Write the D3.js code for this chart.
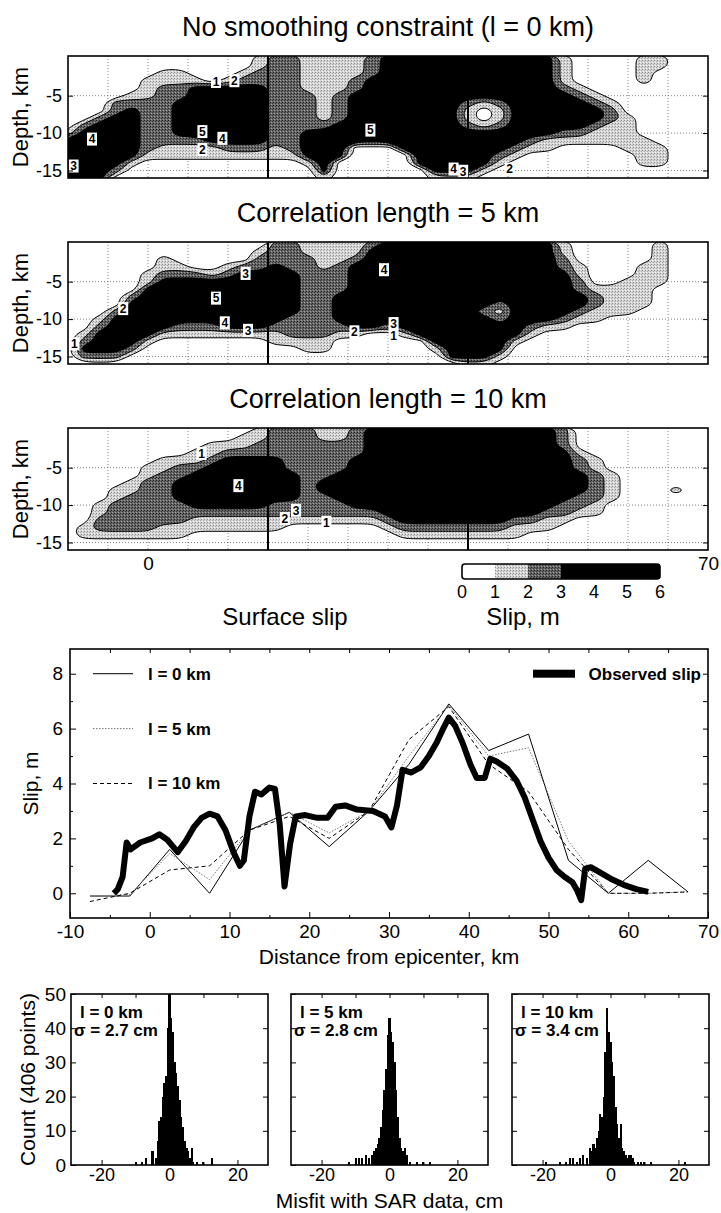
<!DOCTYPE html>
<html>
<head>
<meta charset="utf-8">
<script src="https://cdn.jsdelivr.net/npm/d3@7"></script>
<style>
  body { margin: 0; background: #fff; }
  svg { display: block; font-family: "Liberation Sans", Arial, Helvetica, sans-serif; }
</style>
</head>
<body>
<svg id="fig" width="721" height="1213"></svg>
<script>
// grid nodes of the slip maps: one string per along-strike column, read top to bottom
const alongStrike = d3.range(-10, 71, 2);   // km
const downDip = d3.range(0, -17, -1);        // km
const slipLevels = [1, 2, 3];                // m, contour levels that change the shading
// digit = slip class at the node (0: <1 m, 1: 1-2 m, 2: 2-3 m, 3: >3 m)
const slipL0 = [
  "00000000001333333", "00000000023333333", "00000000233333333", "00000022333333320", "00000123333333100",
  "00011122222221000", "00112222222211000", "00112233333211000", "00013333333211000", "00003333333311000",
  "00013333333321000", "00123333333321000", "11223333333321000", "22222222222211000", "22222222222221000",
  "11111222223333100", "11111111123333331", "11111222233333000", "11122333333300000", "22233333333300000",
  "33333333333300000", "33333333333330000", "33333333333333300", "33333333333333331", "33333333333333331",
  "33333321123333331", "33333310013333310", "33333321123332100", "33333333333321000", "33333333333210000",
  "33333333333110000", "11112333332100000", "00001233332100000", "00000123321100000", "00000012211100000",
  "00000000111110000", "11110000000111100", "11000000000011100", "00000000000000000", "00000000000000000",
  "00000000000000000"
];
const slipL5 = [
  "00000000000000000", "00000000000012320", "00000000001233320", "00000000023333320", "00000002333333200",
  "00001133333331000", "00112333333310000", "00012333333210000", "00002333333210000", "00001333333210000",
  "00012333333310000", "00023333333310000", "01223333333310000", "22233333333211000", "22223333332221000",
  "11222222222221100", "11112222222221100", "11122223333210000", "11233333333310000", "23333333333300000",
  "33333333333200000", "33333333333310000", "33333333333330000", "33333333333333100", "33333333333333330",
  "33333333333333331", "33333333323333331", "33333333212333310", "33333333333331000", "33333333333210000",
  "33333333333100000", "11223333332100000", "00011223321000000", "00000012211000000", "00000011110000000",
  "00000111110000000", "00011111100000000", "11111100000000000", "00000000000000000", "00000000000000000",
  "00000000000000000"
];
const slipL10 = [
  "00000000000000000", "00000000000001100", "00000000001122100", "00000000112222100", "00000001122222100",
  "00000112222222100", "00001122222221100", "00001223332221100", "00011233333211000", "00112333333211000",
  "00123333333211000", "01123333333211000", "11223333333211000", "22223333332211000", "22222233332210000",
  "22222222222210000", "11222223322210000", "11222233332210000", "22223333333210000", "33333333333210000",
  "33333333333321000", "33333333333332100", "33333333333332100", "33333333333332100", "33333333333332100",
  "33333333333332100", "33333333333332100", "33333333333332100", "33333333333321100", "33333333333321000",
  "33333333333211000", "22233333332210000", "00012233322100000", "00001122221100000", "00000011110000000",
  "00000000000000000", "00000000000000000", "00000000000000000", "00000000100000000", "00000000000000000",
  "00000000000000000"
];
// contour labels: [text, km along strike, depth km]
const labelsL0 = [["1", 8.5, -3.1], ["2", 10.8, -3.0], ["4", -7.0, -10.8], ["3", -9.3, -14.4], ["5", 6.8, -9.8],
  ["4", 9.3, -10.7], ["2", 6.8, -12.2], ["5", 27.8, -9.6], ["4", 38.2, -14.8], ["3", 39.4, -15.1], ["2", 45.2, -14.8]];
const labelsL5 = [["1", -9.2, -13.3], ["2", -3.1, -8.6], ["3", 12.2, -3.9], ["5", 8.5, -7.2], ["4", 29.5, -3.4],
  ["4", 9.6, -10.5], ["3", 12.5, -11.5], ["2", 25.8, -11.7], ["3", 30.7, -10.6], ["1", 30.7, -12.2]];
const labelsL10 = [["1", 6.7, -3.1], ["4", 11.3, -7.4], ["3", 18.5, -10.7], ["2", 17.1, -11.8], ["1", 22.3, -12.3]];
const panelTitles = ["No smoothing constraint (l = 0 km)", "Correlation length = 5 km", "Correlation length = 10 km"];
const segmentEnds = [15, 40];
const colorbarBreaks = [0, 1, 2, 3, 6];
const colorbarTicks = [0, 1, 2, 3, 4, 5, 6];

// surface slip
const obsDist = [-4.5, -4.0, -3.4, -2.9, -2.4, -1.2, 0.3, 1.2, 2.2, 3.5, 4.5, 5.5, 6.5, 7.5, 8.5, 9.5, 10.5, 11.3, 11.8, 12.5,
  13.2, 14.0, 15.0, 15.7, 16.3, 16.9, 17.6, 18.3, 19.5, 21.0, 22.3, 23.3, 24.5, 26.0, 28.0, 29.5, 30.3, 31.0, 31.7, 32.8,
  34.0, 35.0, 36.0, 36.8, 37.5, 38.3, 39.2, 40.2, 41.0, 42.0, 42.7, 43.5, 44.8, 46.0, 47.0, 48.0, 49.0, 50.0, 51.0, 52.0,
  53.0, 53.6, 54.1, 54.6, 55.3, 56.5, 58.0, 59.5, 61.0, 62.5];
const obsSlip = [0.0, 0.15, 0.6, 1.85, 1.6, 1.85, 2.0, 2.15, 1.95, 1.5, 1.9, 2.4, 2.75, 2.9, 2.8, 2.3, 1.5, 1.0, 1.2, 2.8,
  3.7, 3.6, 3.85, 3.8, 2.5, 0.25, 1.8, 2.8, 2.85, 2.75, 2.75, 3.15, 3.2, 3.05, 3.0, 2.8, 2.4, 3.2, 4.5, 4.4,
  4.6, 5.0, 5.5, 6.0, 6.4, 6.1, 5.5, 4.7, 4.2, 4.2, 4.9, 4.8, 4.55, 4.1, 3.5, 2.7, 1.9, 1.3, 0.85, 0.6,
  0.4, 0.1, -0.25, 0.9, 0.95, 0.75, 0.5, 0.3, 0.15, 0.05];
const modelDist = [-7.5, -2.5, 2.5, 7.5, 12.5, 17.5, 22.5, 27.5, 32.5, 37.5, 42.5, 47.5, 52.5, 57.5, 62.5, 67.5];
const modelL0 = [-0.1, -0.1, 1.6, 0.0, 2.3, 2.95, 1.7, 3.0, 4.7, 6.9, 5.2, 5.8, 1.2, 0.0, 1.2, 0.05];
const modelL5 = [-0.1, -0.05, 1.45, 0.5, 2.3, 2.95, 2.2, 3.0, 5.0, 6.85, 5.0, 5.3, 1.9, 0.0, 0.0, 0.05];
const modelL10 = [-0.3, 0.0, 0.85, 1.0, 2.3, 2.8, 2.0, 3.0, 5.6, 6.8, 4.7, 3.7, 1.6, 0.0, 0.0, 0.05];

// misfit histograms (bin centres in cm, 0.5 cm bins)
const misfitBinsL0 = [-10, -8, -7, -5, -4, -3.5, -3, -2.5, -2, -1.5, -1, -0.5, 0, 0.5, 1, 1.5, 2, 2.5, 3, 3.5, 4, 4.5, 5, 5.5, 6, 6.5, 7, 8, 10, 12.5];
const misfitCountsL0 = [1, 1, 2, 4, 2, 7, 13, 14, 20, 24, 26, 40, 55, 43, 39, 30, 27, 23, 19, 14, 11, 7, 5, 4, 2, 5, 1, 1, 1, 2];
const misfitBinsL5 = [-12, -10, -9, -8, -7, -6, -5, -4.5, -4, -3.5, -3, -2.5, -2, -1.5, -1, -0.5, 0, 0.5, 1, 1.5, 2, 2.5, 3, 3.5, 4, 4.5, 5, 6, 8, 10, 12];
const misfitCountsL5 = [1, 2, 2, 2, 3, 2, 3, 4, 5, 6, 8, 11, 16, 22, 28, 38, 43, 39, 36, 30, 22, 14, 8, 5, 4, 5, 3, 1, 1, 1, 1];
const misfitBinsL10 = [-19, -15, -13, -12, -11, -10, -9, -8, -7, -6, -5.5, -5, -4.5, -4, -3.5, -3, -2.5, -2, -1.5, -1, -0.5, 0, 0.5, 1, 1.5,
  2, 2.5, 3, 3.5, 4, 4.5, 5, 5.5, 6, 6.5, 7, 8, 9, 10, 12, 22];
const misfitCountsL10 = [1, 1, 1, 2, 2, 1, 2, 3, 2, 5, 4, 6, 5, 8, 10, 15, 14, 20, 33, 46, 39, 36, 30, 26, 17,
  12, 8, 12, 5, 4, 3, 2, 3, 3, 2, 1, 1, 1, 1, 1, 1];
const histNames = ["l = 0 km", "l = 5 km", "l = 10 km"];
const histSigma = ["σ = 2.7 cm", "σ = 2.8 cm", "σ = 3.4 cm"];

const svg = d3.select("#fig");
const defs = svg.append("defs");
svg.append("rect").attr("width", 721).attr("height", 1213).attr("fill", "#fff");

// halftone-like fills
function stipple(id, bg, dots) {
  const p = defs.append("pattern").attr("id", id).attr("patternUnits", "userSpaceOnUse")
    .attr("width", 3).attr("height", 3);
  p.append("rect").attr("width", 3).attr("height", 3).attr("fill", bg);
  dots.forEach(([x, y, c]) => p.append("rect").attr("x", x).attr("y", y).attr("width", 1).attr("height", 1).attr("fill", c));
}
stipple("st-light", "#d6d6d6", [[0, 0, "#8c8c8c"], [2, 1, "#a8a8a8"], [1, 2, "#f2f2f2"]]);
stipple("st-dark", "#666666", [[0, 0, "#222222"], [2, 1, "#333333"], [1, 2, "#a0a0a0"]]);
const bandFill = ["url(#st-light)", "url(#st-dark)", "#000"];

function styleAxis(g, size) {
  g.attr("font-family", null).attr("font-size", size);
  g.select(".domain").remove();
  g.selectAll(".tick line").attr("stroke", "#000");
  g.selectAll(".tick text").attr("fill", "#000");
}

// ---------- slip maps ----------
const xKm = d3.scaleLinear().domain([-10, 70]).range([68, 708]);
const panelTops = [56, 242, 428];
const panelH = 122;
const kmStep = alongStrike[1] - alongStrike[0];
const depthStep = downDip[0] - downDip[1];
const smoothRing = d3.line().curve(d3.curveBasisClosed);

function slipPanel(cols, labels, title, k) {
  const top = panelTops[k];
  const yD = d3.scaleLinear().domain([0.3, -16]).range([top, top + panelH]);
  const n = cols.length, m = cols[0].length;
  const values = [];
  for (let j = 0; j < m; j++) for (let i = 0; i < n; i++) values.push(+cols[i][j] + 0.5);
  const px = u => xKm(alongStrike[0] + (u - 0.5) * kmStep);
  const py = v => yD(downDip[0] - (v - 0.5) * depthStep);
  const bands = d3.contours().size([n, m]).thresholds(slipLevels)(values);
  const pathOf = c => c.coordinates.map(poly => poly.map(ring =>
    smoothRing(ring.slice(0, -1).map(p => [px(p[0]), py(p[1])]))).join("")).join("");

  const clipId = "clip-" + k;
  defs.append("clipPath").attr("id", clipId).append("rect")
    .attr("x", xKm(-10)).attr("y", top).attr("width", xKm(70) - xKm(-10)).attr("height", panelH);

  const g = svg.append("g");
  const body = g.append("g").attr("clip-path", `url(#${clipId})`);

  body.append("g").selectAll("line").data(d3.range(-5, 70, 5)).join("line")
    .attr("x1", d => xKm(d)).attr("x2", d => xKm(d)).attr("y1", top).attr("y2", top + panelH)
    .attr("stroke", "#666").attr("stroke-width", 0.8).attr("stroke-dasharray", "1,2");
  body.append("g").selectAll("line").data([-5, -10, -15]).join("line")
    .attr("x1", xKm(-10)).attr("x2", xKm(70)).attr("y1", d => yD(d)).attr("y2", d => yD(d))
    .attr("stroke", "#666").attr("stroke-width", 0.8).attr("stroke-dasharray", "1,2");

  body.append("g").selectAll("path").data(bands).join("path")
    .attr("d", pathOf).attr("fill", (d, i) => bandFill[i]).attr("fill-rule", "evenodd");
  body.append("g").selectAll("path").data(bands).join("path")
    .attr("d", pathOf).attr("fill", "none").attr("stroke", "#000").attr("stroke-width", 1);

  body.append("g").selectAll("line").data(segmentEnds).join("line")
    .attr("x1", d => xKm(d)).attr("x2", d => xKm(d)).attr("y1", top).attr("y2", top + panelH)
    .attr("stroke", "#000").attr("stroke-width", 2);

  const lab = body.append("g").selectAll("g").data(labels).join("g")
    .attr("transform", d => `translate(${xKm(d[1])},${yD(d[2])})`);
  lab.append("rect").attr("x", -5).attr("y", -6.5).attr("width", 10).attr("height", 13).attr("fill", "#fff");
  lab.append("text").attr("text-anchor", "middle").attr("dy", "0.36em")
    .attr("font-size", 12).attr("font-weight", "bold").text(d => d[0]);

  g.append("rect").attr("x", xKm(-10)).attr("y", top).attr("width", xKm(70) - xKm(-10)).attr("height", panelH)
    .attr("fill", "none").attr("stroke", "#000").attr("stroke-width", 1.6);

  g.append("g").attr("transform", `translate(${xKm(-10)},0)`)
    .call(d3.axisLeft(yD).tickValues([-5, -10, -15]).tickFormat(d => d).tickSizeInner(-5).tickSizeOuter(0).tickPadding(6))
    .call(a => styleAxis(a, 18));
  g.append("g").attr("transform", `translate(${xKm(70)},0)`)
    .call(d3.axisRight(yD).tickValues([-5, -10, -15]).tickFormat("").tickSizeInner(-5).tickSizeOuter(0))
    .call(a => styleAxis(a, 18));

  svg.append("text").attr("x", (xKm(-10) + xKm(70)) / 2).attr("y", top - 20)
    .attr("text-anchor", "middle").attr("font-size", 27).text(title);
  svg.append("text").attr("transform", `translate(28,${top + panelH / 2}) rotate(-90)`)
    .attr("text-anchor", "middle").attr("font-size", 22).text("Depth, km");
  return yD;
}

slipPanel(slipL0, labelsL0, panelTitles[0], 0);
slipPanel(slipL5, labelsL5, panelTitles[1], 1);
const yLast = slipPanel(slipL10, labelsL10, panelTitles[2], 2);

svg.append("g").attr("transform", `translate(0,${yLast.range()[1]})`)
  .call(d3.axisBottom(xKm).tickValues([0, 70]).tickSize(0).tickPadding(7))
  .call(a => styleAxis(a, 19));

// colour bar
const cbX = d3.scaleLinear().domain([0, 6]).range([462, 660]);
const cb = svg.append("g");
cb.selectAll("rect.seg").data(d3.pairs(colorbarBreaks)).join("rect").attr("class", "seg")
  .attr("x", d => cbX(d[0])).attr("width", d => cbX(d[1]) - cbX(d[0]))
  .attr("y", 564).attr("height", 15)
  .attr("fill", (d, i) => i === 0 ? "#fff" : bandFill[i - 1]);
cb.append("rect").attr("x", cbX(0)).attr("y", 564).attr("width", cbX(6) - cbX(0)).attr("height", 15)
  .attr("rx", 3).attr("fill", "none").attr("stroke", "#000").attr("stroke-width", 1.6);
cb.selectAll("text").data(colorbarTicks).join("text")
  .attr("x", d => cbX(d)).attr("y", 598).attr("text-anchor", "middle").attr("font-size", 18).text(d => d);
svg.append("text").attr("x", 523).attr("y", 625).attr("text-anchor", "middle").attr("font-size", 24).text("Slip, m");
svg.append("text").attr("x", 285).attr("y", 625).attr("text-anchor", "middle").attr("font-size", 24).text("Surface slip");

// ---------- surface slip profile ----------
const sx = d3.scaleLinear().domain([-10, 70]).range([70, 708]);
const sy = d3.scaleLinear().domain([-0.9, 8.9]).range([918, 649]);
const chart = svg.append("g");
defs.append("clipPath").attr("id", "clip-slip").append("rect")
  .attr("x", sx(-10)).attr("y", sy(8.9)).attr("width", sx(70) - sx(-10)).attr("height", sy(-0.9) - sy(8.9));

const profile = d3.line().x(d => sx(d[0])).y(d => sy(d[1]));
const plot = chart.append("g").attr("clip-path", "url(#clip-slip)");
const models = [
  { values: modelL0, name: "l = 0 km", stroke: "#000", dash: null, width: 1 },
  { values: modelL5, name: "l = 5 km", stroke: "#777", dash: "1.5,1.5", width: 1 },
  { values: modelL10, name: "l = 10 km", stroke: "#000", dash: "4,3", width: 1 }
];
plot.selectAll("path.model").data(models).join("path").attr("class", "model")
  .attr("d", d => profile(d3.zip(modelDist, d.values)))
  .attr("fill", "none").attr("stroke", d => d.stroke).attr("stroke-width", d => d.width)
  .attr("stroke-dasharray", d => d.dash);
plot.append("path").attr("d", profile(d3.zip(obsDist, obsSlip)))
  .attr("fill", "none").attr("stroke", "#000").attr("stroke-width", 6).attr("stroke-linejoin", "round");

chart.append("rect").attr("x", sx(-10)).attr("y", sy(8.9)).attr("width", sx(70) - sx(-10)).attr("height", sy(-0.9) - sy(8.9))
  .attr("fill", "none").attr("stroke", "#000").attr("stroke-width", 1.6);

chart.append("g").attr("transform", `translate(0,${sy(-0.9)})`)
  .call(d3.axisBottom(sx).tickValues(d3.range(-10, 71, 10)).tickFormat(d => d).tickSizeInner(-6).tickSizeOuter(0).tickPadding(7))
  .call(a => styleAxis(a, 19));
chart.append("g").attr("transform", `translate(0,${sy(-0.9)})`)
  .call(d3.axisBottom(sx).tickValues(d3.range(-5, 70, 10)).tickFormat("").tickSizeInner(-3).tickSizeOuter(0))
  .call(a => styleAxis(a, 19));
chart.append("g").attr("transform", `translate(0,${sy(8.9)})`)
  .call(d3.axisTop(sx).tickValues(d3.range(-5, 70, 5)).tickFormat("").tickSizeInner(-4).tickSizeOuter(0))
  .call(a => styleAxis(a, 19));
chart.append("g").attr("transform", `translate(${sx(-10)},0)`)
  .call(d3.axisLeft(sy).tickValues([0, 2, 4, 6, 8]).tickSizeInner(-6).tickSizeOuter(0).tickPadding(7))
  .call(a => styleAxis(a, 19));
chart.append("g").attr("transform", `translate(${sx(-10)},0)`)
  .call(d3.axisLeft(sy).tickValues([1, 3, 5, 7]).tickFormat("").tickSizeInner(-3).tickSizeOuter(0))
  .call(a => styleAxis(a, 19));
chart.append("g").attr("transform", `translate(${sx(70)},0)`)
  .call(d3.axisRight(sy).tickValues(d3.range(0, 9, 1)).tickFormat("").tickSizeInner(-5).tickSizeOuter(0))
  .call(a => styleAxis(a, 19));

chart.append("text").attr("x", (sx(-10) + sx(70)) / 2).attr("y", 964).attr("text-anchor", "middle")
  .attr("font-size", 21).text("Distance from epicenter, km");
chart.append("text").attr("transform", `translate(38,${(sy(-0.9) + sy(8.9)) / 2}) rotate(-90)`)
  .attr("text-anchor", "middle").attr("font-size", 21).text("Slip, m");

// legend
const legendRows = [8, 6, 4];
const leg = chart.append("g").selectAll("g").data(models).join("g")
  .attr("transform", (d, i) => `translate(0,${sy(legendRows[i])})`);
leg.append("line").attr("x1", 93).attr("x2", 133)
  .attr("stroke", d => d.stroke).attr("stroke-width", d => d.width).attr("stroke-dasharray", d => d.dash);
leg.append("text").attr("x", 148).attr("dy", "0.35em").attr("font-size", 17).attr("font-weight", "bold").text(d => d.name);
chart.append("rect").attr("x", 533).attr("y", sy(8) - 4).attr("width", 42).attr("height", 8).attr("fill", "#000");
chart.append("text").attr("x", 701).attr("y", sy(8)).attr("dy", "0.35em").attr("text-anchor", "end")
  .attr("font-size", 17).attr("font-weight", "bold").text("Observed slip");

// ---------- misfit histograms ----------
const hists = [
  { bins: misfitBinsL0, counts: misfitCountsL0 },
  { bins: misfitBinsL5, counts: misfitCountsL5 },
  { bins: misfitBinsL10, counts: misfitCountsL10 }
];
const histLeft = [71, 291, 512];
const histW = 197;
const hy = d3.scaleLinear().domain([0, 50]).range([1165, 994]).clamp(true);
const binHalf = 0.3;

hists.forEach((h, k) => {
  const hx = d3.scaleLinear().domain([-29, 29]).range([histLeft[k], histLeft[k] + histW]);
  const g = svg.append("g");
  g.selectAll("rect.bar").data(d3.zip(h.bins, h.counts)).join("rect").attr("class", "bar")
    .attr("x", d => hx(d[0] - binHalf)).attr("width", d => hx(d[0] + binHalf) - hx(d[0] - binHalf))
    .attr("y", d => hy(d[1])).attr("height", d => hy(0) - hy(d[1])).attr("fill", "#000")
    .attr("shape-rendering", "crispEdges");
  g.append("rect").attr("x", hx(-29)).attr("y", hy(50)).attr("width", histW).attr("height", hy(0) - hy(50))
    .attr("fill", "none").attr("stroke", "#000").attr("stroke-width", 1.6);

  g.append("g").attr("transform", `translate(0,${hy(0)})`)
    .call(d3.axisBottom(hx).tickValues([-20, 0, 20]).tickFormat(d => d).tickSizeInner(-5).tickSizeOuter(0).tickPadding(3))
    .call(a => styleAxis(a, 18));
  g.append("g").attr("transform", `translate(0,${hy(0)})`)
    .call(d3.axisBottom(hx).tickValues([-10, 10]).tickFormat("").tickSizeInner(-3).tickSizeOuter(0))
    .call(a => styleAxis(a, 18));
  g.append("g").attr("transform", `translate(0,${hy(50)})`)
    .call(d3.axisTop(hx).tickValues([-20, -10, 0, 10, 20]).tickFormat("").tickSizeInner(-4).tickSizeOuter(0))
    .call(a => styleAxis(a, 18));
  g.append("g").attr("transform", `translate(${hx(-29)},0)`)
    .call(d3.axisLeft(hy).tickValues(d3.range(0, 51, 10)).tickFormat(k === 0 ? (d => d) : "").tickSizeInner(-5).tickSizeOuter(0).tickPadding(5))
    .call(a => styleAxis(a, 19));
  g.append("g").attr("transform", `translate(${hx(29)},0)`)
    .call(d3.axisRight(hy).tickValues(d3.range(10, 50, 10)).tickFormat("").tickSizeInner(-5).tickSizeOuter(0))
    .call(a => styleAxis(a, 19));

  g.append("text").attr("x", hx(-29) + 9).attr("y", 1018).attr("font-size", 17).attr("font-weight", "bold").text(histNames[k]);
  g.append("text").attr("x", hx(-29) + 3).attr("y", 1036).attr("font-size", 17).attr("font-weight", "bold").text(histSigma[k]);
});

svg.append("text").attr("transform", `translate(35,${(hy(0) + hy(50)) / 2}) rotate(-90)`)
  .attr("text-anchor", "middle").attr("font-size", 21).text("Count (406 points)");
svg.append("text").attr("x", histLeft[1] + histW / 2).attr("y", 1208).attr("text-anchor", "middle")
  .attr("font-size", 21).text("Misfit with SAR data, cm");
</script>
</body>
</html>
